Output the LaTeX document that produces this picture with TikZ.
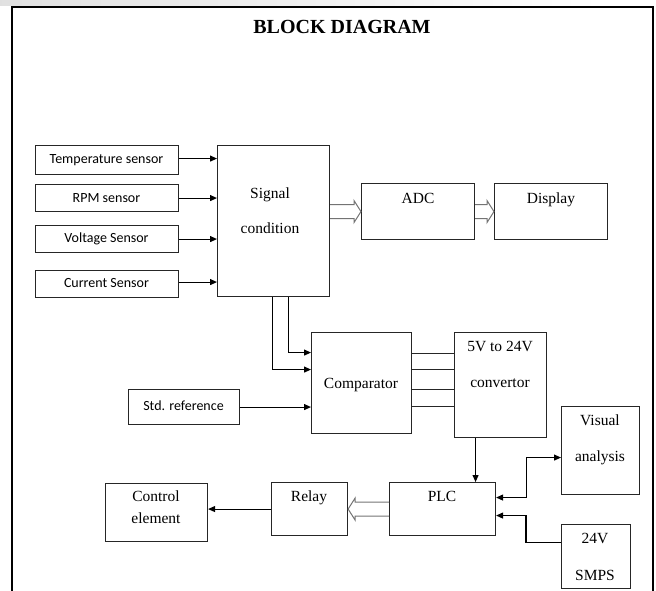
\documentclass[tikz,border=0pt]{standalone}
\usepackage{fontspec}
\setmainfont{Liberation Serif}
\newfontfamily\calib{Carlito}
\usetikzlibrary{arrows.meta,calc}
\newcommand{\hollowarr}[2]{%
  \draw[hollow] let \p1=(#1), \p2=(#2), \n1={sign(\x2-\x1)} in
    (\x1,\y1+7pt) -- (\x2-\n1*7pt,\y1+7pt) -- (\x2-\n1*7pt,\y1+11pt) -- (\x2,\y1)
    -- (\x2-\n1*7pt,\y1-11pt) -- (\x2-\n1*7pt,\y1-7pt) -- (\x1,\y1-7pt);}
\begin{document}
\begin{tikzpicture}[x=1pt,y=-1pt,
  box/.style={draw=black!85, line width=1.1pt, inner sep=0pt, anchor=north west},
  stxt/.style={font=\calib\fontsize{14}{16}\selectfont, inner sep=0pt, text height=10pt, text depth=3pt},
  rtxt/.style={font=\fontsize{15.5}{18}\selectfont, inner sep=0pt, text height=11pt, text depth=3.5pt},
  arr/.style={draw=black, line width=1.1pt, -{Triangle[length=7pt,width=6pt]}},
  darr/.style={draw=black, line width=1.1pt, {Triangle[length=7pt,width=6pt]}-{Triangle[length=7pt,width=6pt]}},
  ln/.style={draw=black!85, line width=1.1pt},
  hollow/.style={draw=black!55, line width=1pt, line join=miter}]
\useasboundingbox (0,0) rectangle (656,591);
% faint band above the frame
\shade[left color=black!12, right color=white] (0,0) rectangle (600,6);
% frame
\draw[line width=2pt] (12,593) -- (12,7) -- (653,7) -- (653,593);
\node[font=\bfseries\fontsize{20}{24}\selectfont, inner sep=0pt] (title) at (342,27) {BLOCK DIAGRAM};
% boxes
\node[box, minimum width=143pt, minimum height=29pt] (temp) at (35,145) {};
\node[box, minimum width=143pt, minimum height=27pt] (rpm) at (35,184) {};
\node[box, minimum width=143pt, minimum height=27pt] (volt) at (35,225) {};
\node[box, minimum width=143pt, minimum height=27pt] (curr) at (35,270) {};
\node[box, minimum width=112pt, minimum height=151pt] (sig) at (217,145) {};
\node[box, minimum width=113pt, minimum height=56pt] (adc) at (361,183) {};
\node[box, minimum width=113pt, minimum height=56pt] (disp) at (494,183) {};
\node[box, minimum width=100pt, minimum height=101pt] (comp) at (311,332) {};
\node[box, minimum width=92pt, minimum height=105pt] (conv) at (454,332) {};
\node[box, minimum width=111pt, minimum height=35pt] (std) at (128,389) {};
\node[box, minimum width=78pt, minimum height=88pt] (vis) at (561,406) {};
\node[box, minimum width=106pt, minimum height=53pt] (plc) at (389,482) {};
\node[box, minimum width=76pt, minimum height=53pt] (relay) at (271,482) {};
\node[box, minimum width=102pt, minimum height=58pt] (ctrl) at (105,483) {};
\node[box, minimum width=69pt, minimum height=64pt] (smps) at (561,524) {};
% texts
\node[stxt] (ttemp) at (106.5,160) {Temperature sensor};
\node[stxt] (trpm) at (106.5,199) {RPM sensor};
\node[stxt] (tvolt) at (106.5,239) {Voltage Sensor};
\node[stxt] (tcurr) at (106.5,284) {Current Sensor};
\node[stxt] (tstd) at (183.5,407) {Std. reference};
\node[rtxt] (tsig1) at (270,195) {Signal};
\node[rtxt] (tsig2) at (270,230) {condition};
\node[rtxt] (tadc) at (418,200) {ADC};
\node[rtxt] (tdisp) at (551,200) {Display};
\node[rtxt] (tcomp) at (361,385) {Comparator};
\node[rtxt] (tconv1) at (500,348) {5V to 24V};
\node[rtxt] (tconv2) at (500,384) {convertor};
\node[rtxt] (tplc) at (442,498) {PLC};
\node[rtxt] (trelay) at (309,498) {Relay};
\node[rtxt] (tctrl1) at (156,498) {Control};
\node[rtxt] (tctrl2) at (156,520) {element};
\node[rtxt] (tvis1) at (600,422) {Visual};
\node[rtxt] (tvis2) at (600,458) {analysis};
\node[rtxt] (tsmps1) at (595,540) {24V};
\node[rtxt] (tsmps2) at (595,577) {SMPS};
% sensor arrows
\draw[arr] ($(temp.east)+(0,-1.5)$) -- ($(temp.east -| sig.west)+(0,-1.5)$);
\draw[arr] (rpm.east) -- (rpm.east -| sig.west);
\draw[arr] (volt.east) -- (volt.east -| sig.west);
\draw[arr] ($(curr.east)+(0,-2)$) -- ($(curr.east -| sig.west)+(0,-2)$);
% hollow arrows
\hollowarr{sig.east |- adc.west}{adc.west}
\hollowarr{adc.east}{disp.west}
\hollowarr{plc.west}{relay.east}
% signal to comparator
\coordinate (s1) at ($(sig.south)+(-1,0)$);
\coordinate (s2) at ($(sig.south)+(15,0)$);
\draw[arr] (s2) |- ($(comp.west)+(0,-30.5)$);
\draw[arr] (s1) |- ($(comp.west)+(0,-13.5)$);
\draw[arr] (std.east) -- (std.east -| comp.west);
% comparator to converter
\foreach \dy in {-29.5,-13.5,6.5,23.5}
  \draw[ln] ($(comp.east)+(0,\dy)$) -- ($(comp.east -| conv.west)+(0,\dy)$);
% converter to PLC
\coordinate (c1) at ($(conv.south)+(-25,0)$);
\draw[arr] (c1) -- (c1 |- plc.north);
% PLC to visual
\coordinate (v1) at ($(plc.east)+(0,-11.5)$);
\coordinate (v2) at ($(vis.west)+(0,7)$);
\draw[darr] (v1) -- ++(30,0) |- (v2);
% SMPS to PLC
\coordinate (p1) at ($(plc.east)+(0,6.5)$);
\coordinate (p2) at ($(smps.west)+(0,-14)$);
\draw[arr] (p2) -- ++(-35,0) |- (p1);
% relay to control
\draw[arr] (relay.west) -- (relay.west -| ctrl.east);
\end{tikzpicture}
\end{document}
